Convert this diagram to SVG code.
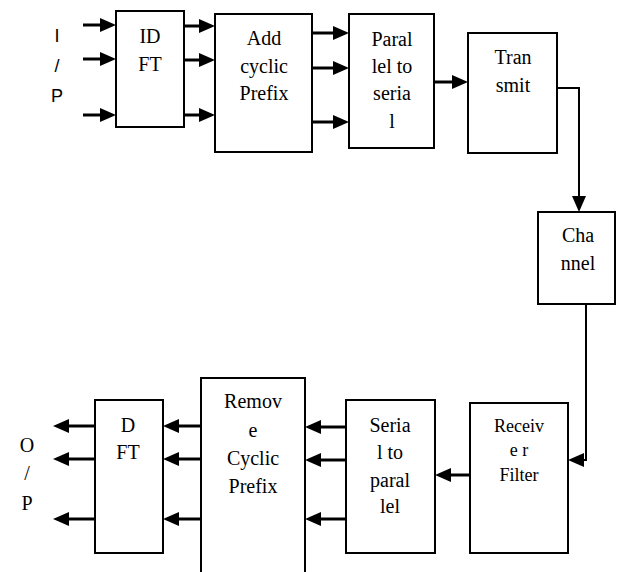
<svg xmlns="http://www.w3.org/2000/svg" width="617" height="572" viewBox="0 0 617 572">
<style>
.box{fill:#fff;stroke:#000;stroke-width:2}
.t{font-family:'Liberation Serif','Times New Roman',serif;font-size:20px;fill:#000;text-anchor:middle}
.s{font-family:'Liberation Sans',Arial,sans-serif;font-size:18px;fill:#000;text-anchor:middle}
.sm{font-size:18px}
.a{stroke:#000;stroke-width:3;fill:none}
.c{stroke:#000;stroke-width:2;fill:none}
</style>
<defs>
<marker id="ah" viewBox="0 0 16 14" refX="6" refY="7" markerWidth="16" markerHeight="14" markerUnits="userSpaceOnUse" orient="auto">
<path d="M0,0 L16,7 L0,14 z" fill="#000"/>
</marker>
</defs>
<rect width="617" height="572" fill="#fff"/>
<g id="in-label">
<text class="s" x="57" y="42">I</text>
<text class="s" x="57" y="72">/</text>
<text class="s" x="57" y="102">P</text>
</g>
<g id="idft">
<rect class="box" x="116" y="11" width="68" height="116"/>
<text class="t" x="150" y="43">ID</text>
<text class="t" x="150" y="71">FT</text>
</g>
<g id="addcp">
<rect class="box" x="215" y="14" width="97" height="138"/>
<text class="t" x="264" y="45">Add</text>
<text class="t" x="264" y="73">cyclic</text>
<text class="t" x="264" y="100">Prefix</text>
</g>
<g id="p2s">
<rect class="box" x="349" y="14" width="85" height="134"/>
<text class="t" x="392" y="46">Paral</text>
<text class="t" x="392" y="73">lel to</text>
<text class="t" x="392" y="100">seria</text>
<text class="t" x="392" y="128">l</text>
</g>
<g id="transmit">
<rect class="box" x="468" y="33" width="89" height="120"/>
<text class="t" x="513" y="64">Tran</text>
<text class="t" x="513" y="92">smit</text>
</g>
<g id="channel">
<rect class="box" x="538" y="212" width="77" height="92"/>
<text class="t" x="578" y="242">Cha</text>
<text class="t" x="578" y="270">nnel</text>
</g>
<g id="rxfilter">
<rect class="box" x="470" y="403" width="98" height="150"/>
<text class="t sm" x="519" y="432">Receiv</text>
<text class="t sm" x="519" y="456">e r</text>
<text class="t sm" x="519" y="481">Filter</text>
</g>
<g id="s2p">
<rect class="box" x="346" y="400" width="89" height="153"/>
<text class="t" x="390" y="432">Seria</text>
<text class="t" x="390" y="459">l to</text>
<text class="t" x="390" y="487">paral</text>
<text class="t" x="390" y="513">lel</text>
</g>
<g id="removecp">
<path class="box" d="M201,580 L201,378 L305,378 L305,580"/>
<text class="t" x="253" y="408">Remov</text>
<text class="t" x="253" y="437">e</text>
<text class="t" x="253" y="465">Cyclic</text>
<text class="t" x="253" y="493">Prefix</text>
</g>
<g id="dft">
<rect class="box" x="95" y="400" width="68" height="153"/>
<text class="t" x="128" y="432">D</text>
<text class="t" x="128" y="459">FT</text>
</g>
<g id="out-label">
<text class="t" x="27" y="452">O</text>
<text class="t" x="27" y="480">/</text>
<text class="t" x="27" y="510">P</text>
</g>
<g id="connectors">
<line class="a" x1="83" y1="25" x2="106" y2="25" marker-end="url(#ah)"/>
<line class="a" x1="83" y1="59" x2="106" y2="59" marker-end="url(#ah)"/>
<line class="a" x1="83" y1="115" x2="106" y2="115" marker-end="url(#ah)"/>
<line class="a" x1="184" y1="26" x2="205" y2="26" marker-end="url(#ah)"/>
<line class="a" x1="184" y1="60" x2="205" y2="60" marker-end="url(#ah)"/>
<line class="a" x1="184" y1="115" x2="205" y2="115" marker-end="url(#ah)"/>
<line class="a" x1="312" y1="33" x2="339" y2="33" marker-end="url(#ah)"/>
<line class="a" x1="312" y1="68" x2="339" y2="68" marker-end="url(#ah)"/>
<line class="a" x1="312" y1="122" x2="339" y2="122" marker-end="url(#ah)"/>
<line class="a" x1="434" y1="82" x2="458" y2="82" marker-end="url(#ah)"/>
<path class="c" d="M557,88 L579,88 L579,202" marker-end="url(#ah)"/>
<path class="c" d="M586,304 L586,460 L578,460" marker-end="url(#ah)"/>
<line class="a" x1="470" y1="475" x2="445" y2="475" marker-end="url(#ah)"/>
<line class="a" x1="346" y1="427" x2="315" y2="427" marker-end="url(#ah)"/>
<line class="a" x1="346" y1="460" x2="315" y2="460" marker-end="url(#ah)"/>
<line class="a" x1="346" y1="519" x2="315" y2="519" marker-end="url(#ah)"/>
<line class="a" x1="201" y1="426" x2="173" y2="426" marker-end="url(#ah)"/>
<line class="a" x1="201" y1="459" x2="173" y2="459" marker-end="url(#ah)"/>
<line class="a" x1="201" y1="519" x2="173" y2="519" marker-end="url(#ah)"/>
<line class="a" x1="95" y1="426" x2="63" y2="426" marker-end="url(#ah)"/>
<line class="a" x1="95" y1="459" x2="63" y2="459" marker-end="url(#ah)"/>
<line class="a" x1="95" y1="519" x2="63" y2="519" marker-end="url(#ah)"/>
</g>
</svg>
